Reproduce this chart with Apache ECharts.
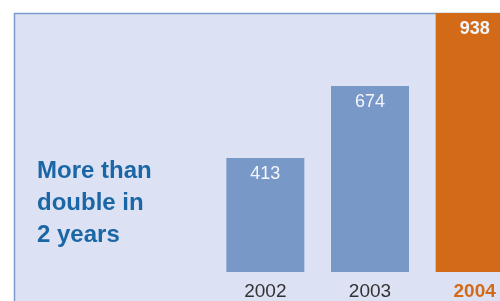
<!DOCTYPE html>
<html>
<head>
<meta charset="utf-8">
<script src="https://cdn.jsdelivr.net/npm/echarts@6/dist/echarts.min.js"></script>
<style>
  html, body { margin: 0; padding: 0; background: #ffffff; overflow: hidden; }
  /* the last bar runs off the right edge, so the chart is wider than the window */
  #main { width: 527px; height: 301px; }
</style>
</head>
<body>
<div id="main"></div>
<script>
// data
var years = ['2002', '2003', '2004'];
var counts = [413, 674, 938];
var headline = ['More than', 'double in', '2 years'];

var blue = '#7898c8';
var orange = '#d26a17';

var myChart = echarts.init(document.getElementById('main'));

// last year is highlighted in orange
var barData = counts.map(function (v, i) {
    var last = i === counts.length - 1;
    return {
        value: v,
        itemStyle: { color: last ? orange : blue },
        label: { fontWeight: last ? 'bold' : 'normal' }
    };
});
var catData = years.map(function (y, i) {
    var last = i === years.length - 1;
    return {
        value: y,
        textStyle: {
            color: last ? orange : '#333333',
            fontWeight: last ? 'bold' : 'normal'
        }
    };
});

var option = {
    backgroundColor: '#ffffff',
    animation: false,
    grid: {
        left: 213,
        right: 0,
        top: 13,
        bottom: 29
    },
    graphic: [
        {
            type: 'rect',
            z: -10,
            silent: true,
            shape: { x: 14.5, y: 13.5, width: 540, height: 320 },
            style: { fill: '#dce2f3', stroke: '#7d9dd0', lineWidth: 1.5 }
        },
        {
            type: 'text',
            left: 37,
            top: 155,
            silent: true,
            style: {
                text: headline.join('\n'),
                fill: '#1b66a5',
                font: 'bold 24px "Liberation Sans", Arial, sans-serif',
                lineHeight: 32
            }
        }
    ],
    xAxis: {
        type: 'category',
        data: catData,
        axisLine: { show: false },
        axisTick: { show: false },
        axisLabel: {
            margin: 10,
            fontSize: 19,
            fontFamily: '"Liberation Sans", Arial, sans-serif'
        }
    },
    yAxis: {
        type: 'value',
        min: 0,
        max: 938,
        show: false,
        splitLine: { show: false }
    },
    series: [
        {
            type: 'bar',
            barWidth: 78,
            data: barData,
            label: {
                show: true,
                position: 'insideTop',
                distance: 7,
                color: '#f4f6fb',
                fontSize: 18,
                fontFamily: '"Liberation Sans", Arial, sans-serif'
            }
        }
    ]
};

myChart.setOption(option);
</script>
</body>
</html>
